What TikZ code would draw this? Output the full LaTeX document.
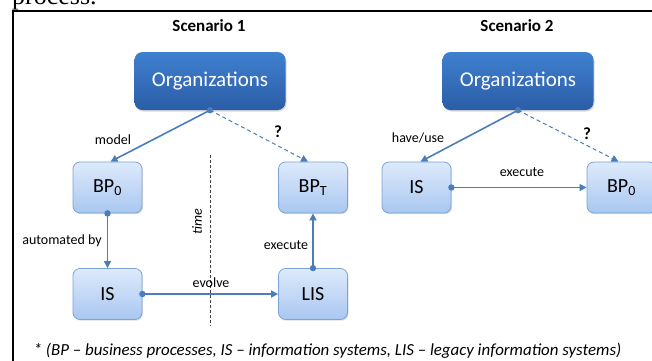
\documentclass[tikz,border=0pt]{standalone}
\usepackage{fontspec}
\setmainfont{Carlito}
\newfontfamily\timesfont{Liberation Serif}
\usetikzlibrary{arrows.meta,shadows}
\definecolor{lnblue}{HTML}{4A7EBB}
\definecolor{boxtop}{HTML}{DDEAFB}
\definecolor{boxbot}{HTML}{A9C7F0}
\definecolor{boxedge}{HTML}{7DA2D6}
\definecolor{orgtop}{HTML}{3F80CF}
\definecolor{orgbot}{HTML}{2B5DA6}
\tikzset{
  lightbox/.style={rounded corners=7pt, minimum width=69pt, minimum height=51pt,
    draw=boxedge, line width=0.8pt, top color=boxtop, bottom color=boxbot,
    font=\fontsize{20}{24}\selectfont, inner sep=0pt,
    drop shadow={shadow xshift=1pt, shadow yshift=-1.2pt, opacity=0.25}},
  orgbox/.style={rounded corners=8pt, minimum width=151pt, minimum height=58pt,
    top color=orgtop, bottom color=orgbot, text=white,
    font=\fontsize{21}{25}\selectfont, inner sep=0pt,
    drop shadow={shadow xshift=1pt, shadow yshift=-1.5pt, opacity=0.3}},
  conn/.style={draw=lnblue, line width=1.6pt, -{Triangle[length=7pt,width=7pt]}},
  dconn/.style={conn, line width=1pt, dash pattern=on 4pt off 3pt},
  startdot/.style={fill=lnblue},
  lbl/.style={font=\fontsize{14}{17}\selectfont, inner sep=0pt},
  qmark/.style={font=\fontsize{17}{19}\selectfont\bfseries, inner sep=0pt},
  title/.style={font=\fontsize{17}{20}\selectfont\bfseries, inner sep=0pt}
}
\begin{document}
\begin{tikzpicture}[x=1pt,y=-1pt]
\useasboundingbox (0,0) rectangle (652,360);
\begin{scope}
  \clip (0,0) rectangle (652,360);
  \node[anchor=base west, font=\timesfont\fontsize{26}{26}\selectfont, inner sep=0pt] (proc) at (12,4) {process.};
  \draw[line width=2pt] (12.5,362) -- (12.5,10.5) -- (654,10.5);
\end{scope}

\node[title] (t1) at (209,26) {Scenario 1};
\node[title] (t2) at (517,26) {Scenario 2};

% Scenario 1
\node[orgbox] (org1) at (210,81) {Organizations};
\node[lightbox] (bp0) at (107.5,187.5) {BP\textsubscript{0}};
\node[lightbox] (bpt) at (313,187.5) {BP\textsubscript{T}};
\node[lightbox] (is1) at (107.5,294) {IS};
\node[lightbox] (lis) at (313,294) {LIS};

\coordinate (tm1) at (210,155);
\coordinate (tm2) at (210,326);
\draw[black!75, line width=0.9pt, dash pattern=on 3pt off 2pt] (tm1) -- (tm2);
\node[lbl, rotate=90, font=\fontsize{14}{17}\selectfont\itshape] (time) at (197,222) {time};

\draw[conn] (org1.south) -- ([xshift=3pt]bp0.north);
\draw[dconn] (org1.south) -- ([xshift=-5pt]bpt.north);
\fill[startdot] (org1.south) circle (3.2pt);
\draw[conn] (bp0.south) -- (is1.north);
\fill[startdot] (bp0.south) circle (3.2pt);
\draw[conn] (is1.east) -- (lis.west);
\fill[startdot] (is1.east) circle (3.2pt);
\draw[conn] (lis.north) -- (bpt.south);
\fill[startdot] (lis.north) circle (3.2pt);

\node[lbl] (lmodel) at (113,140) {model};
\node[qmark] (q1) at (278,132) {?};
\node[lbl] (lauto) at (62,241) {automated by};
\node[lbl] (levolve) at (211,283) {evolve};
\node[lbl] (lexec1) at (286,245) {execute};

% Scenario 2
\node[orgbox] (org2) at (518,81) {Organizations};
\node[lightbox] (is2) at (416.5,187.5) {IS};
\node[lightbox] (bp2) at (621.5,187.5) {BP\textsubscript{0}};

\draw[conn] (org2.south) -- ([xshift=4pt]is2.north);
\draw[dconn] (org2.south) -- ([xshift=-3pt]bp2.north);
\fill[startdot] (org2.south) circle (3.2pt);
\draw[conn] (is2.east) -- (bp2.west);
\fill[startdot] (is2.east) circle (3.2pt);

\node[lbl] (lhave) at (418,138) {have/use};
\node[qmark] (q2) at (587,134) {?};
\node[lbl] (lexec2) at (522,172) {execute};

\node[lbl, font=\fontsize{16.9}{19}\selectfont\itshape] (foot) at (327.5,350.5)
  {* (BP – business processes, IS – information systems, LIS – legacy information systems)};
\end{tikzpicture}
\end{document}
